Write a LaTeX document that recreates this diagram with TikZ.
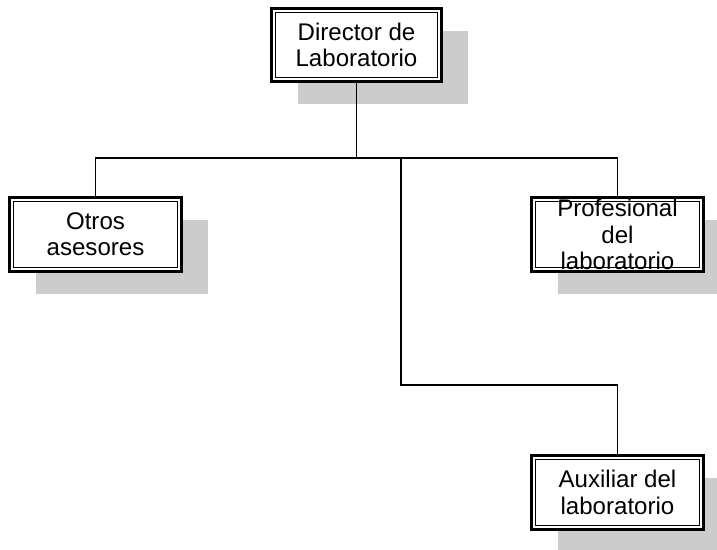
\documentclass[tikz,border=0pt]{standalone}
\usepackage{fontspec}
\setmainfont{Liberation Sans}
\usetikzlibrary{shadows,calc}
\definecolor{shadowgray}{RGB}{204,204,204}

\tikzset{
  orgbox/.style={draw, line width=1.7pt, fill=white, minimum width=3.44cm, minimum height=1.48cm,
    align=center, inner sep=0pt, font=\fontsize{13.7}{15}\selectfont,
    drop shadow={shadow xshift=0.52cm, shadow yshift=-0.46cm, fill=shadowgray, opacity=1},
    path picture={\draw[line width=0.6pt] ([shift={(0.08,0.08)}]path picture bounding box.south west) rectangle ([shift={(-0.08,-0.08)}]path picture bounding box.north east);}},
  link/.style={draw, line width=0.6pt}
}

\begin{document}
\begin{tikzpicture}
  \useasboundingbox (0,0) rectangle (14.34,11);
  \clip (0,0) rectangle (14.34,11);

  %% Boxes
  \node[orgbox, minimum width=3.40cm, minimum height=1.46cm] (dir) at (7.13,10.10) {Director de\\Laboratorio};
  \node[orgbox] (otros) at (1.91,6.31) {Otros\\asesores};
  \node[orgbox] (prof)  at (12.35,6.31) {Profesional\\del\\laboratorio};
  \node[orgbox] (aux)   at (12.35,1.15) {Auxiliar del\\laboratorio};

  %% Connectors
  \coordinate (bus)   at (7.13,7.84);
  \coordinate (split) at (8.02,7.84);
  \coordinate (turn)  at (8.02,3.30);

  \draw[link] (dir.south) -- (bus);
  \draw[link] (otros.north) |- (prof.north |- bus) -- (prof.north);
  \draw[link] (split) -- (turn) -| (aux.north);
\end{tikzpicture}
\end{document}
